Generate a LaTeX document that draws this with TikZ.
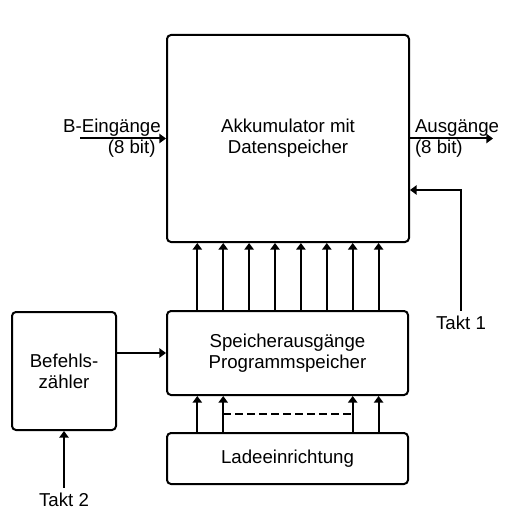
\documentclass[tikz,border=0pt]{standalone}
\usepackage{fontspec}
\setmainfont{Liberation Sans}
\usepackage{tikz}
\usetikzlibrary{arrows.meta,calc}

\begin{document}
\begin{tikzpicture}[x=.75pt,y=-.75pt,line width=1.5pt,
    font=\fontsize{14}{16}\selectfont,
    block/.style={draw,rounded corners=3pt,align=center},
    arr/.style={-{Triangle[width=7pt,length=5pt]}},
    lbl/.style={inner sep=0pt}]
             \useasboundingbox (0,0) rectangle (511,527);

             % boxes
             \node[block,minimum width=181.5pt,minimum height=155.25pt] (acc) at (288,138.5) {Akkumulator mit\\Datenspeicher};
             \node[block,minimum width=180.75pt,minimum height=63pt] (spa) at (287.5,353) {Speicherausgänge\\Programmspeicher};
             \node[block,minimum width=180.75pt,minimum height=38.25pt] (lade) at (287.5,458.5) {Ladeeinrichtung};
             \node[block,minimum width=78pt,minimum height=88.5pt] (bz) at (64,371) {Befehls-\\zähler};

             % inputs and outputs
             \node[lbl,anchor=east,align=right] (bin) at (161.7,138.2) {B-Eingänge\\\mbox{(8 bit)\ }};
             \node[lbl,anchor=west,align=left] (bout) at (414,138.5) {Ausgänge\\(8 bit)};
             \coordinate (bstart) at (80,138.5);
             \coordinate (aend) at (493,138.5);
             \draw[arr] (bstart) -- (acc.west);
             \draw[arr] (acc.east) -- (aend);

             \node (takt1) at (461,323) {Takt 1};
             \node (takt2) at (64,500) {Takt 2};
             \draw[arr] (takt1.north) |- ($(acc.east)+(0,51.5)$);
             \draw[arr] (takt2.north) -- (bz.south);
             \draw[arr] (spa.west -| bz.east) -- (spa.west);

             % data lines
             \foreach \i in {0,...,7}{
               \coordinate (up\i) at ($(spa.north west)+(31.3+25.9*\i,0)$);
               \draw[arr] (up\i) -- (up\i |- acc.south);
             }
             \foreach \i in {0,1,6,7}{
               \coordinate (lo\i) at ($(lade.north west)+(31.3+25.9*\i,0)$);
               \draw[arr] (lo\i) -- (lo\i |- spa.south);
             }
             \draw[dash pattern=on 6pt off 3pt] ($(lo1)+(0,-18)$) -- ($(lo6)+(0,-18)$);

\end{tikzpicture}
\end{document}
